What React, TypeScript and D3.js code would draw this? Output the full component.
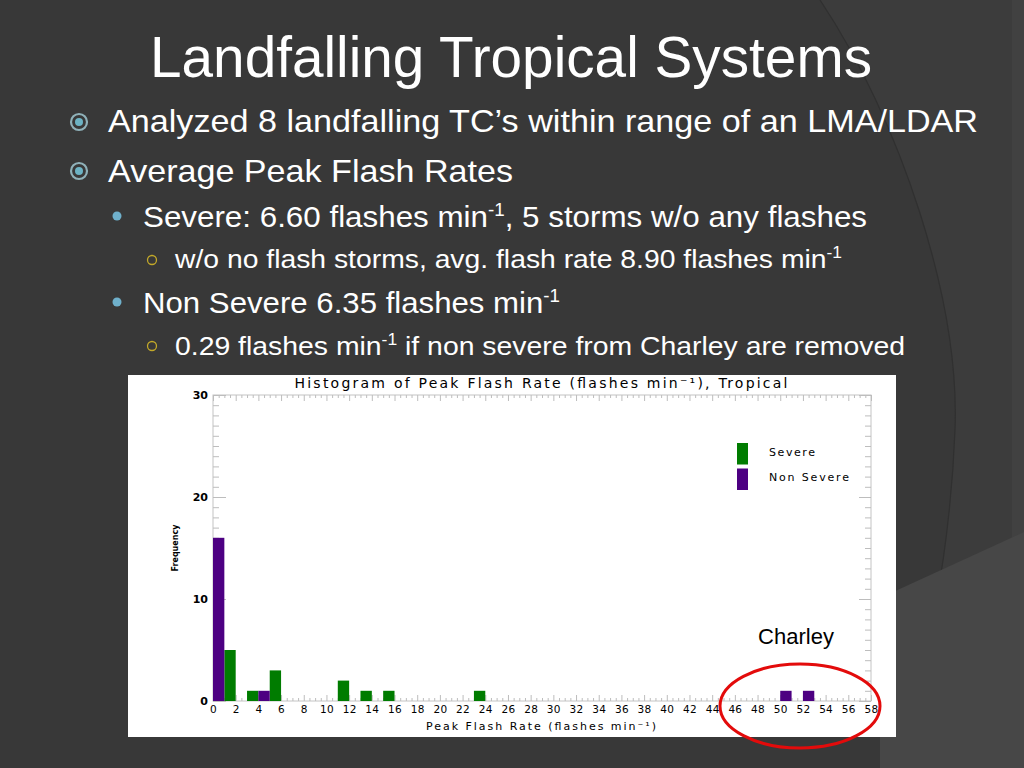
import { useEffect, useRef } from 'react'
import * as d3 from 'd3'

// histogram bins (left edge of 1-unit bin) and counts
const severeBins = [1, 3, 5, 11, 13, 15, 23]
const severeCounts = [5, 1, 3, 2, 1, 1, 1]
const nonSevereBins = [0, 4, 50, 52]
const nonSevereCounts = [16, 1, 1, 1]

const xTickLabels = [0, 2, 4, 6, 8, 10, 12, 14, 16, 18, 20, 22, 24, 26, 28, 30, 32, 34, 36, 38, 40, 42, 44, 46, 48, 50, 52, 54, 56, 58]
const yTickLabels = [0, 10, 20, 30]
const legendNames = ['Severe', 'Non Severe']
const legendColors = ['#007c00', '#4d0082']
const legendWidths = [46, 80]

const SANS = '"Liberation Sans Narrow", "Liberation Sans", Arial, sans-serif'
const IDL = '"DejaVu Sans", sans-serif'

function Chart() {
  const ref = useRef<SVGGElement | null>(null)

  useEffect(() => {
    const g = d3.select(ref.current)
    g.selectAll('*').remove()

    const x = d3.scaleLinear().domain([0, 58]).range([213, 871])
    const y = d3.scaleLinear().domain([0, 30]).range([701, 395])
    const [x0, x1] = x.range()
    const [y0, y1] = y.range()

    // * frame
    g.append('rect')
      .attr('x', x0).attr('y', y1)
      .attr('width', x1 - x0).attr('height', y0 - y1)
      .attr('fill', 'none').attr('stroke', '#c4c4c4').attr('stroke-width', 1)

    const minorX = d3.range(0, 58.01, 0.5).filter((v) => v % 2 !== 0)
    const minorY = d3.range(0, 30.01, 1).filter((v) => v % 10 !== 0)

    const styleTicks = (sel: any) => {
      sel.select('.domain').remove()
      sel.selectAll('line').attr('stroke', '#bdbdbd')
    }

    // * bottom axis
    g.append('g').attr('transform', `translate(0,${y0})`)
      .call(d3.axisBottom(x).tickValues(minorX).tickSize(-3).tickFormat(() => ''))
      .call(styleTicks)
    g.append('g').attr('transform', `translate(0,${y0})`)
      .call(d3.axisBottom(x).tickValues(xTickLabels).tickSize(-6).tickPadding(5))
      .call(styleTicks)
      .call((s) => s.selectAll('text')
        .attr('font-family', IDL).attr('font-size', 10.5).attr('fill', '#000')
        .attr('letter-spacing', '0.3'))

    // * top axis
    g.append('g').attr('transform', `translate(0,${y1})`)
      .call(d3.axisTop(x).tickValues(minorX).tickSize(-3).tickFormat(() => ''))
      .call(styleTicks)
    g.append('g').attr('transform', `translate(0,${y1})`)
      .call(d3.axisTop(x).tickValues(xTickLabels).tickSize(-6).tickFormat(() => ''))
      .call(styleTicks)

    // * left axis
    g.append('g').attr('transform', `translate(${x0},0)`)
      .call(d3.axisLeft(y).tickValues(minorY).tickSize(-6).tickFormat(() => ''))
      .call(styleTicks)
    g.append('g').attr('transform', `translate(${x0},0)`)
      .call(d3.axisLeft(y).tickValues(yTickLabels).tickSize(-13).tickPadding(6))
      .call(styleTicks)
      .call((s) => s.selectAll('text')
        .attr('x', -5)
        .attr('font-family', IDL).attr('font-size', 11).attr('font-weight', 'bold').attr('fill', '#000'))

    // * right axis
    g.append('g').attr('transform', `translate(${x1},0)`)
      .call(d3.axisRight(y).tickValues(minorY).tickSize(-6).tickFormat(() => ''))
      .call(styleTicks)
    g.append('g').attr('transform', `translate(${x1},0)`)
      .call(d3.axisRight(y).tickValues(yTickLabels).tickSize(-12).tickFormat(() => ''))
      .call(styleTicks)

    // * bars
    const severe = severeBins.map((b, i) => ({ b, c: severeCounts[i] }))
    const nonSevere = nonSevereBins.map((b, i) => ({ b, c: nonSevereCounts[i] }))

    g.selectAll('.sev').data(severe).enter().append('rect')
      .attr('class', 'sev')
      .attr('x', (d) => x(d.b))
      .attr('width', (d) => x(d.b + 1) - x(d.b))
      .attr('y', (d) => y(d.c))
      .attr('height', (d) => y(0) - y(d.c))
      .attr('fill', legendColors[0])

    g.selectAll('.non').data(nonSevere).enter().append('rect')
      .attr('class', 'non')
      .attr('x', (d) => x(d.b))
      .attr('width', (d) => x(d.b + 1) - x(d.b))
      .attr('y', (d) => y(d.c))
      .attr('height', (d) => y(0) - y(d.c))
      .attr('fill', legendColors[1])

    // * legend
    const leg = g.append('g')
    legendNames.forEach((name, i) => {
      leg.append('rect')
        .attr('x', 737).attr('y', 443 + i * 25.5)
        .attr('width', 11).attr('height', 21.5)
        .attr('fill', legendColors[i])
      leg.append('text')
        .attr('x', 769).attr('y', 456 + i * 25)
        .attr('font-family', IDL).attr('font-size', 11)
        .attr('textLength', legendWidths[i]).attr('lengthAdjust', 'spacing')
        .attr('fill', '#000')
        .text(name)
    })

    // * titles
    g.append('text')
      .attr('x', 541).attr('y', 388)
      .attr('text-anchor', 'middle')
      .attr('font-family', IDL).attr('font-size', 14)
      .attr('textLength', 493).attr('lengthAdjust', 'spacing')
      .attr('fill', '#000')
      .text('Histogram of Peak Flash Rate (flashes min⁻¹), Tropical')

    g.append('text')
      .attr('x', 541).attr('y', 730)
      .attr('text-anchor', 'middle')
      .attr('font-family', IDL).attr('font-size', 11)
      .attr('textLength', 230).attr('lengthAdjust', 'spacing')
      .attr('fill', '#000')
      .text('Peak Flash Rate (flashes min⁻¹)')

    g.append('text')
      .attr('transform', 'translate(178,548) rotate(-90)')
      .attr('text-anchor', 'middle')
      .attr('font-family', IDL).attr('font-size', 9).attr('font-weight', 'bold')
      .attr('textLength', 47).attr('lengthAdjust', 'spacingAndGlyphs')
      .attr('fill', '#000')
      .text('Frequency')
  }, [])

  return <g ref={ref} />
}

function Ring({ cx, cy }: { cx: number; cy: number }) {
  return (
    <g>
      <circle cx={cx} cy={cy} r={8} fill="none" stroke="#8fb1b9" strokeWidth={2.2} />
      <circle cx={cx} cy={cy} r={4} fill="#6cb3c4" />
    </g>
  )
}

export default function App() {
  return (
    <svg width={1024} height={768} style={{ position: 'absolute', left: 0, top: 0 }}>
      {/* slide background */}
      <rect x={0} y={0} width={1024} height={768} fill="#383838" />
      <path d="M820,0 C900,120 960,300 955,430 C950,560 925,670 898,768 L1024,768 L1024,0 Z" fill="#3c3c3c" />
      <path d="M820,0 C900,120 960,300 955,430 C950,560 925,670 898,768" fill="none" stroke="#303030" strokeWidth={1.2} />
      <rect x={1012} y={0} width={12} height={768} fill="#414141" />
      <path d="M880,598 L1024,532 L1024,768 L880,768 Z" fill="#474747" />

      {/* title */}
      <text x={511} y={77} textAnchor="middle" fontFamily={SANS} fontSize={58} fill="#fff"
        textLength={722} lengthAdjust="spacingAndGlyphs">Landfalling Tropical Systems</text>

      {/* bullets */}
      <Ring cx={79} cy={122} />
      <text x={108} y={132} fontFamily={SANS} fontSize={32} fill="#fff"
        textLength={870} lengthAdjust="spacingAndGlyphs">Analyzed 8 landfalling TC’s within range of an LMA/LDAR</text>
      <Ring cx={79} cy={171} />
      <text x={108} y={182} fontFamily={SANS} fontSize={32} fill="#fff"
        textLength={405} lengthAdjust="spacingAndGlyphs">Average Peak Flash Rates</text>

      <circle cx={117} cy={216} r={4.5} fill="#6fb0cb" />
      <text x={143} y={227} fontFamily={SANS} fontSize={30} fill="#fff"
        textLength={724} lengthAdjust="spacingAndGlyphs">
        Severe: 6.60 flashes min<tspan dy={-11} fontSize={18}>-1</tspan><tspan dy={11}>, 5 storms w/o any flashes</tspan>
      </text>

      <circle cx={152} cy={260} r={4.5} fill="none" stroke="#c2a829" strokeWidth={1.3} />
      <text x={175} y={268} fontFamily={SANS} fontSize={26} fill="#fff"
        textLength={667} lengthAdjust="spacingAndGlyphs">
        w/o no flash storms, avg. flash rate 8.90 flashes min<tspan dy={-10} fontSize={16}>-1</tspan>
      </text>

      <circle cx={117} cy={302} r={4.5} fill="#6fb0cb" />
      <text x={143} y={313} fontFamily={SANS} fontSize={30} fill="#fff"
        textLength={417} lengthAdjust="spacingAndGlyphs">
        Non Severe 6.35 flashes min<tspan dy={-11} fontSize={18}>-1</tspan>
      </text>

      <circle cx={152} cy={346} r={4.5} fill="none" stroke="#c2a829" strokeWidth={1.3} />
      <text x={175} y={355} fontFamily={SANS} fontSize={26} fill="#fff"
        textLength={730} lengthAdjust="spacingAndGlyphs">
        0.29 flashes min<tspan dy={-10} fontSize={16}>-1</tspan><tspan dy={10}> if non severe from Charley are removed</tspan>
      </text>

      {/* chart image */}
      <rect x={128} y={375} width={768} height={362} fill="#fff" />
      <Chart />

      {/* annotation */}
      <text x={796} y={644} textAnchor="middle" fontFamily='"Liberation Sans", Arial, sans-serif' fontSize={22} fill="#000">Charley</text>
      <ellipse cx={800} cy={706} rx={80} ry={42} fill="none" stroke="#e30b0b" strokeWidth={3} />
    </svg>
  )
}
